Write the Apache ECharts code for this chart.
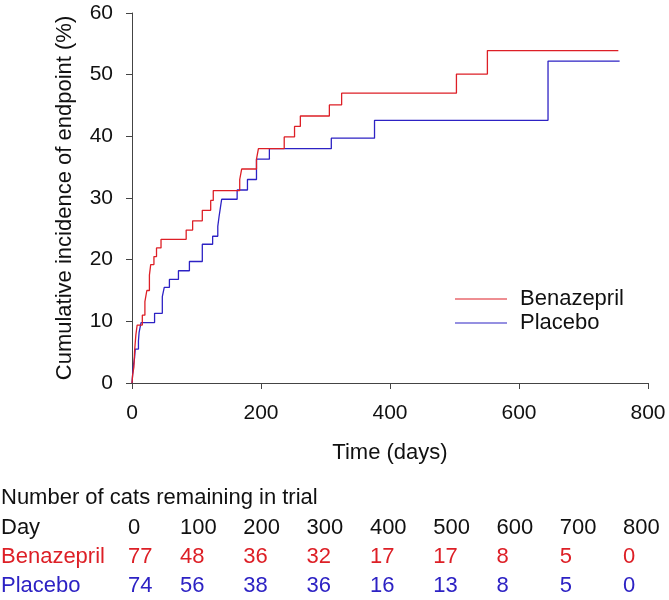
<!DOCTYPE html>
<html>
<head>
<meta charset="utf-8">
<script src="https://cdn.jsdelivr.net/npm/echarts@6/dist/echarts.min.js"></script>
<style>
html,body{margin:0;padding:0;background:#fff;}
#chart{width:669px;height:600px;}
</style>
</head>
<body>
<div id="chart"></div>
<script>
// Kaplan-Meier style cumulative incidence (days, %)
const benazeprilDays = [0, 1, 3, 4, 6, 8, 16, 20, 23, 27, 29, 34, 38, 45, 84, 94, 109, 122, 126, 167, 170, 193, 196, 236, 252, 261, 306, 325, 503, 551, 754];
const benazeprilPct  = [0, 1.3, 2.6, 5.2, 7.8, 9.4, 11.0, 13.2, 15.0, 17.5, 19.2, 20.5, 21.9, 23.3, 24.8, 26.3, 28.0, 29.6, 31.2, 33.0, 34.7, 36.3, 38.0, 39.9, 41.6, 43.3, 45.1, 47.0, 50.1, 53.9, 53.9];

const placeboDays = [0, 1, 2, 4, 5, 10, 11, 14, 35, 47, 50, 58, 72, 89, 109, 125, 133, 135, 137, 139, 163, 179, 193, 213, 309, 376, 645, 756];
const placeboPct  = [0, 1.4, 2.7, 4.1, 5.5, 6.8, 8.2, 9.8, 11.3, 14.0, 15.5, 16.8, 18.2, 19.7, 22.5, 23.8, 25.4, 27.0, 28.4, 29.8, 31.3, 33.0, 36.3, 38.0, 39.7, 42.6, 52.2, 52.2];

const xTicks = [0, 200, 400, 600, 800];
const yTicks = [0, 10, 20, 30, 40, 50, 60];

// Numbers at risk table
const tableTitle = 'Number of cats remaining in trial';
const tableDays = [0, 100, 200, 300, 400, 500, 600, 700, 800];
const atRiskBenazepril = [77, 48, 36, 32, 17, 17, 8, 5, 0];
const atRiskPlacebo = [74, 56, 38, 36, 16, 13, 8, 5, 0];

const RED = '#dd1f26';
const BLUE = '#2d22c4';
const FONT = '"Liberation Sans", Arial, Helvetica, sans-serif';

function pairs(xs, ys) { return xs.map((x, i) => [x, ys[i]]); }

const chart = echarts.init(document.getElementById('chart'), null, {renderer: 'canvas'});

const colX = k => (k === 0 ? 128 : 180 + (k - 1) * 63.3);
const rowY = [499, 529, 558, 587];
const graphics = [];
graphics.push({type: 'text', left: 1, top: rowY[0] - 12, style: {text: tableTitle, fill: '#111', font: '22px ' + FONT}});
const rowDefs = [
  {label: 'Day', vals: tableDays, color: '#111', y: rowY[1]},
  {label: 'Benazepril', vals: atRiskBenazepril, color: RED, y: rowY[2]},
  {label: 'Placebo', vals: atRiskPlacebo, color: BLUE, y: rowY[3]}
];
rowDefs.forEach(r => {
  graphics.push({type: 'text', left: 1, top: r.y - 12, style: {text: r.label, fill: r.color, font: '22px ' + FONT}});
  r.vals.forEach((v, k) => {
    graphics.push({type: 'text', left: colX(k), top: r.y - 12, style: {text: String(v), fill: r.color, font: '22px ' + FONT}});
  });
});

const legendIcon = 'path://M0,0 L52,0 L52,1 L0,1 Z';

chart.setOption({
  animation: false,
  backgroundColor: '#fff',
  textStyle: {fontFamily: FONT},
  grid: {left: 132, right: 21, top: 13, bottom: 217, containLabel: false},
  legend: {
    orient: 'vertical', left: 450, top: 282,
    itemWidth: 52, itemHeight: 14, itemGap: 0,
    textStyle: {fontSize: 22, lineHeight: 24, color: '#111', fontFamily: FONT, padding: [0, 0, 0, 8]},
    data: [{name: 'Benazepril', icon: legendIcon}, {name: 'Placebo', icon: legendIcon}]
  },
  xAxis: {
    type: 'value', min: xTicks[0], max: xTicks[xTicks.length - 1], interval: 200,
    name: 'Time (days)', nameLocation: 'middle', nameGap: 59,
    nameTextStyle: {fontSize: 22, color: '#111', fontFamily: FONT},
    axisLine: {lineStyle: {color: '#444', width: 1}},
    axisTick: {show: true, length: 6, lineStyle: {color: '#444'}},
    axisLabel: {fontSize: 21, color: '#111', margin: 20, fontFamily: FONT},
    splitLine: {show: false}
  },
  yAxis: {
    type: 'value', min: yTicks[0], max: yTicks[yTicks.length - 1], interval: 10,
    name: 'Cumulative incidence of endpoint (%)', nameLocation: 'middle', nameGap: 56,
    nameTextStyle: {fontSize: 22, color: '#111', fontFamily: FONT},
    axisLine: {show: true, lineStyle: {color: '#444', width: 1}},
    axisTick: {show: true, length: 6, lineStyle: {color: '#444'}},
    axisLabel: {fontSize: 21, color: '#111', margin: 19, fontFamily: FONT},
    splitLine: {show: false}
  },
  series: [
    {name: 'Benazepril', type: 'line', step: 'end', symbol: 'none', data: pairs(benazeprilDays, benazeprilPct),
     color: RED, lineStyle: {color: RED, width: 1.3}, z: 3},
    {name: 'Placebo', type: 'line', step: 'end', symbol: 'none', data: pairs(placeboDays, placeboPct),
     color: BLUE, lineStyle: {color: BLUE, width: 1.3}, z: 2}
  ],
  graphic: graphics
});
</script>
</body>
</html>
